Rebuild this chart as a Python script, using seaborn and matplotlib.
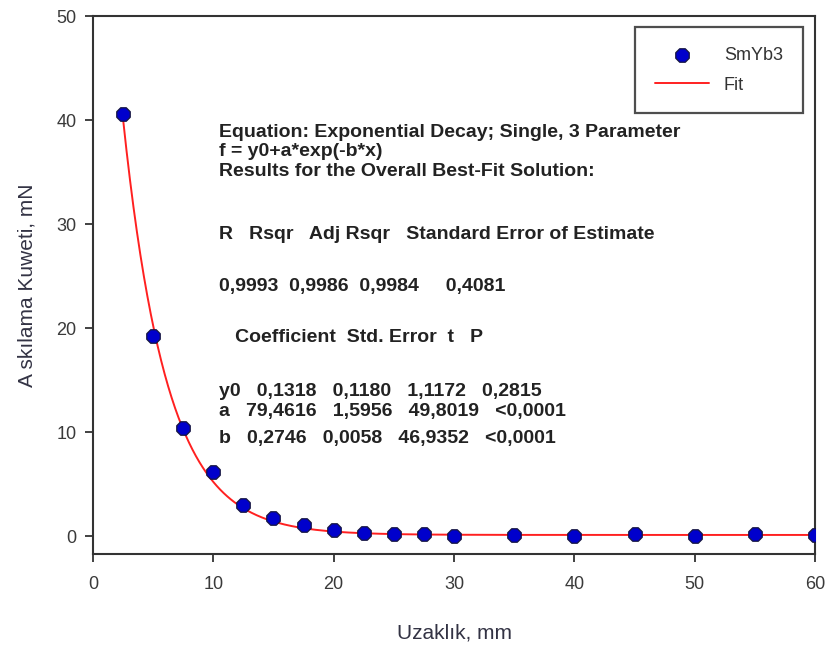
import numpy as np
import pandas as pd
import seaborn as sns
import matplotlib.pyplot as plt

# veri
uzaklik = [2.5, 5, 7.5, 10, 12.5, 15, 17.5, 20, 22.5, 25, 27.5, 30, 35, 40, 45, 50, 55, 60]
kuvvet = [40.6, 19.3, 10.4, 6.2, 3.0, 1.8, 1.1, 0.6, 0.3, 0.2, 0.2, 0.0, 0.1, 0.0, 0.2, 0.0, 0.2, 0.1]

# fit parametreleri (f = y0 + a*exp(-b*x))
y0, a, b = 0.1318, 79.4616, 0.2746

df = pd.DataFrame({'x': uzaklik, 'y': kuvvet})
xf = np.linspace(2.5, 60, 400)
fit = pd.DataFrame({'x': xf, 'y': y0 + a * np.exp(-b * xf)})

sns.set_style('ticks')
plt.rcParams['font.family'] = ['Liberation Sans', 'DejaVu Sans']

fig = plt.figure(figsize=(8.3, 6.51), dpi=100)
ax = fig.add_axes([0.112, 0.149, 0.870, 0.826])

sns.lineplot(data=fit, x='x', y='y', ax=ax, color='#ff2020', lw=1.4, label='Fit', zorder=2)
sns.scatterplot(data=df, x='x', y='y', ax=ax, marker='8', s=110, color='#0000cc',
                edgecolor='#151540', linewidth=0.9, label='SmYb3', zorder=3)

ax.set_xlim(0, 60)
ax.set_ylim(-1.7, 50)
ax.set_xticks(range(0, 61, 10))
ax.set_yticks(range(0, 51, 10))
ax.tick_params(direction='out', length=6, width=1.3, colors='#333333', labelsize=13,
               labelcolor='#3a3a3a')
ax.tick_params(axis='x', pad=10)
ax.tick_params(axis='y', pad=6)
for s in ax.spines.values():
    s.set_linewidth(1.5)
    s.set_color('#333333')
ax.set_xlabel('Uzaklık, mm', fontsize=15, color='#333344', labelpad=22)
ax.set_ylabel('A skılama Kuweti, mN', fontsize=15, color='#333344', labelpad=14)

# legend: SmYb3 ilk sırada
h, l = ax.get_legend_handles_labels()
leg = ax.legend(h[::-1], l[::-1], loc='upper right', bbox_to_anchor=(0.983, 0.98),
                borderaxespad=0, fontsize=13, frameon=True, fancybox=False,
                edgecolor='#222222', borderpad=1.1, handlelength=3.0, labelspacing=0.7)
leg.get_frame().set_linewidth(1.6)
for t in leg.get_texts():
    t.set_color('#333333')

tk = dict(transform=ax.transData, fontsize=14, fontweight='bold', color='#222222', va='center')
tx = 10.5
ax.text(tx, 38.8, 'Equation: Exponential Decay; Single, 3 Parameter', **tk)
ax.text(tx, 37.0, 'f = y0+a*exp(-b*x)', **tk)
ax.text(tx, 35.1, 'Results for the Overall Best-Fit Solution:', **tk)
ax.text(tx, 29.0, 'R   Rsqr   Adj Rsqr   Standard Error of Estimate', **tk)
ax.text(tx, 24.0, '0,9993  0,9986  0,9984     0,4081', **tk)
ax.text(tx, 19.1, '   Coefficient  Std. Error  t   P', **tk)
ax.text(tx, 13.9, 'y0   0,1318   0,1180   1,1172   0,2815', **tk)
ax.text(tx, 12.0, 'a   79,4616   1,5956   49,8019   <0,0001', **tk)
ax.text(tx, 9.4, 'b   0,2746   0,0058   46,9352   <0,0001', **tk)

fig.savefig('out.png', dpi=100)
